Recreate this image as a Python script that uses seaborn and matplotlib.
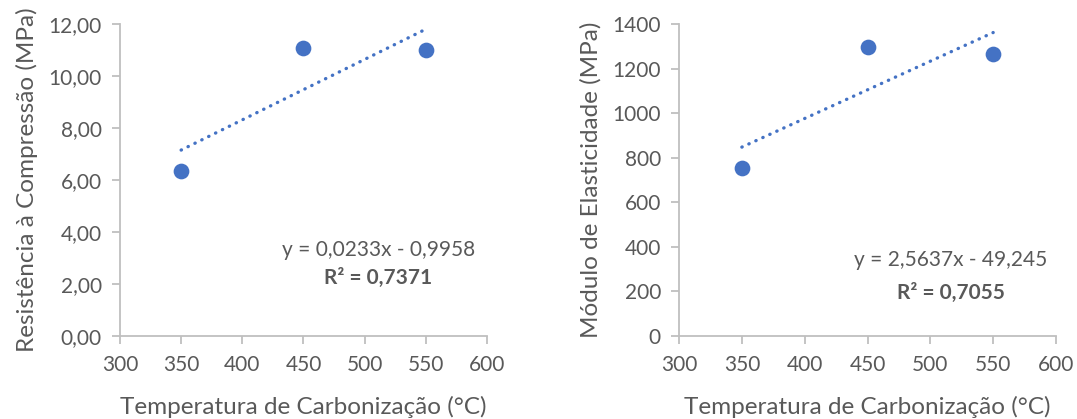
import numpy as np
import pandas as pd
import seaborn as sns
import matplotlib.pyplot as plt
from matplotlib.ticker import FuncFormatter

# Dados
temperatura = [350, 450, 550]
resistencia = [6.35, 11.08, 11.00]
modulo = [752, 1296, 1266]

eq_resist = 'y = 0,0233x - 0,9958'
r2_resist = 'R² = 0,7371'
eq_modulo = 'y = 2,5637x - 49,245'
r2_modulo = 'R² = 0,7055'

df = pd.DataFrame({'T': temperatura, 'R': resistencia, 'E': modulo})

sns.set_style('white')
plt.rcParams['font.family'] = ['Lato', 'DejaVu Sans']

azul = '#4472C4'
cinza = '#595959'
eixo = '#BFBFBF'

fig = plt.figure(figsize=(10.77, 4.19), dpi=100)
ax1 = fig.add_axes([0.1114, 0.1981, 0.3408, 0.7446])
ax2 = fig.add_axes([0.6305, 0.1981, 0.3500, 0.7446])

for ax, col in [(ax1, 'R'), (ax2, 'E')]:
    sns.regplot(data=df, x='T', y=col, ax=ax, ci=None,
                scatter_kws={'s': 128, 'color': azul, 'alpha': 1, 'linewidths': 0, 'zorder': 3},
                line_kws={'color': azul, 'lw': 2.4, 'linestyle': (0, (0.1, 2.2)),
                          'dash_capstyle': 'round'})
    ax.set_xlim(300, 600)
    ax.set_xticks([300, 350, 400, 450, 500, 550, 600])
    for s in ['top', 'right']:
        ax.spines[s].set_visible(False)
    for s in ['left', 'bottom']:
        ax.spines[s].set_color(eixo)
        ax.spines[s].set_linewidth(1.3)
    ax.tick_params(axis='both', colors=eixo, labelcolor=cinza, labelsize=15,
                   length=6, width=1.3, direction='out', left=True, bottom=True)
    ax.tick_params(axis='y', pad=7)
    ax.tick_params(axis='x', pad=8)
    ax.set_xlabel('Temperatura de Carbonização (°C)', fontsize=17.5, color=cinza, labelpad=15)

ax1.set_ylim(0, 12)
ax1.set_yticks(np.arange(0, 13, 2))
ax1.yaxis.set_major_formatter(FuncFormatter(lambda v, p: f'{v:.2f}'.replace('.', ',')))
ax1.set_ylabel('Resistência à Compressão (MPa)', fontsize=17.5, color=cinza, labelpad=8)
ax1.text(511, 3.31, eq_resist, ha='center', va='center', fontsize=15, color=cinza)
ax1.text(511, 2.23, r2_resist, ha='center', va='center', fontsize=15, color=cinza, fontweight='bold')

ax2.set_ylim(0, 1400)
ax2.set_yticks(np.arange(0, 1401, 200))
ax2.set_ylabel('Módulo de Elasticidade (MPa)', fontsize=17.5, color=cinza, labelpad=8)
ax2.text(516, 341, eq_modulo, ha='center', va='center', fontsize=15, color=cinza)
ax2.text(516, 193, r2_modulo, ha='center', va='center', fontsize=15, color=cinza, fontweight='bold')

plt.savefig('out.png', dpi=100)
